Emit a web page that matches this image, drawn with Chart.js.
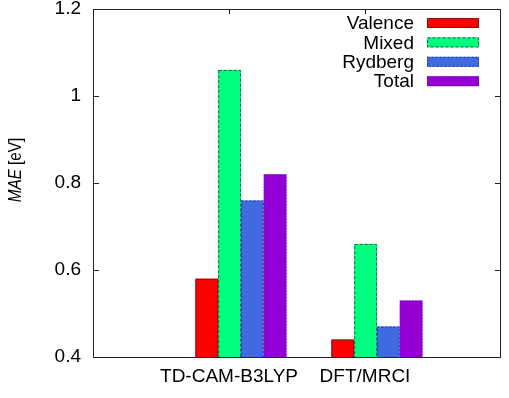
<!DOCTYPE html>
<html>
<head>
<meta charset="utf-8">
<script src="https://cdn.jsdelivr.net/npm/chart.js@4.4.1/dist/chart.umd.min.js"></script>
<style>
  html, body { margin: 0; padding: 0; background: #fff; }
  #wrap { width: 509px; height: 398px; }
</style>
</head>
<body>
<div id="wrap"><canvas id="maeChart" width="509" height="398"></canvas></div>
<script>
const methods = ["TD-CAM-B3LYP", "DFT/MRCI"];
const seriesNames = ["Valence", "Mixed", "Rydberg", "Total"];
const valence = [0.58, 0.44];
const mixed = [1.06, 0.66];
const rydberg = [0.76, 0.47];
const total = [0.82, 0.53];
const yTicks = [0.4, 0.6, 0.8, 1, 1.2];

const fills = ["#ff0000", "#00ff7f", "#4169e1", "#9400d3"];
const edges = ["#8b1010", "#0b6b38", "#1f3a99", "#6a1099"];
const dashes = [[], [3, 2], [2, 2], [1, 2]];
const FONT = "'Liberation Sans', Arial, sans-serif";

const allSeries = [valence, mixed, rydberg, total];

const datasets = allSeries.map((vals, k) => ({
  label: seriesNames[k],
  data: vals.map((v, i) => ({ x: i, y: v })),
  backgroundColor: fills[k],
  borderWidth: 0,
  edgeColor: edges[k],
  edgeDash: dashes[k],
  categoryPercentage: 0.67,
  barPercentage: 1.0,
}));

// gnuplot-like box: frame with inward ticks on all four sides
const framePlugin = {
  id: "frame",
  beforeDatasetsDraw(chart) {
    const { ctx, chartArea: a, scales } = chart;
    ctx.save();
    ctx.strokeStyle = "#222";
    ctx.lineWidth = 1;
    ctx.beginPath();
    scales.y.ticks.forEach((t) => {
      const y = Math.round(scales.y.getPixelForValue(t.value)) + 0.5;
      ctx.moveTo(a.left, y); ctx.lineTo(a.left + 6, y);
      ctx.moveTo(a.right, y); ctx.lineTo(a.right - 6, y);
    });
    scales.x.ticks.forEach((t) => {
      const x = Math.round(scales.x.getPixelForValue(t.value)) + 0.5;
      ctx.moveTo(x, a.bottom); ctx.lineTo(x, a.bottom - 5);
      ctx.moveTo(x, a.top); ctx.lineTo(x, a.top + 5);
    });
    ctx.stroke();
    ctx.restore();
  },
  afterDatasetsDraw(chart) {
    const { ctx, chartArea: a } = chart;
    ctx.save();
    // bar outlines (dashed / dotted like the original)
    ctx.beginPath();
    ctx.rect(a.left, a.top, a.right - a.left, a.bottom - a.top);
    ctx.clip();
    chart.data.datasets.forEach((ds, k) => {
      const meta = chart.getDatasetMeta(k);
      ctx.strokeStyle = ds.edgeColor;
      ctx.setLineDash(ds.edgeDash);
      ctx.lineWidth = 1;
      meta.data.forEach((el) => {
        const p = el.getProps(["x", "y", "base", "width"], true);
        const bottom = Math.min(p.base, a.bottom);
        ctx.strokeRect(p.x - p.width / 2 + 0.5, p.y + 0.5, p.width - 1, bottom - p.y);
      });
    });
    ctx.restore();

    ctx.save();
    ctx.strokeStyle = "#222";
    ctx.lineWidth = 1;
    ctx.strokeRect(Math.round(a.left) + 0.5, Math.round(a.top) + 0.5,
      Math.round(a.right - a.left) - 1, Math.round(a.bottom - a.top));
    ctx.restore();
  },
  afterDraw(chart) {
    const { ctx } = chart;
    // legend, text right aligned with sample box on the right
    ctx.save();
    ctx.font = "19px " + FONT;
    ctx.textAlign = "right";
    ctx.textBaseline = "middle";
    chart.data.datasets.forEach((ds, k) => {
      const y = 23 + k * 19.4;
      ctx.fillStyle = "#000";
      ctx.fillText(ds.label, 414, y + 1);
      ctx.fillStyle = ds.backgroundColor;
      ctx.fillRect(427, y - 5, 52, 10);
      ctx.strokeStyle = ds.edgeColor;
      ctx.setLineDash(ds.edgeDash);
      ctx.strokeRect(427.5, y - 4.5, 51, 9);
      ctx.setLineDash([]);
    });
    ctx.restore();

    // y axis title: italic MAE + [eV], a bit condensed like the original
    ctx.save();
    ctx.translate(16, 170);
    ctx.rotate(-Math.PI / 2);
    ctx.scale(0.85, 1);
    ctx.textBaseline = "middle";
    ctx.fillStyle = "#000";
    const italic = "italic 18px " + FONT;
    const normal = "18px " + FONT;
    ctx.font = italic;
    const w1 = ctx.measureText("MAE").width;
    ctx.font = normal;
    const w2 = ctx.measureText(" [eV]").width;
    const x0 = -(w1 + w2) / 2;
    ctx.textAlign = "left";
    ctx.font = italic;
    ctx.fillText("MAE", x0, 0);
    ctx.font = normal;
    ctx.fillText(" [eV]", x0 + w1, 0);
    ctx.restore();
  },
};

const ctx = document.getElementById("maeChart").getContext("2d");
const maeChart = new Chart(ctx, {
  type: "bar",
  data: { datasets: datasets },
  options: {
    responsive: false,
    animation: false,
    devicePixelRatio: 1,
    layout: { padding: { left: 0, top: 9, right: 8, bottom: 0 } },
    plugins: {
      legend: { display: false },
      tooltip: { enabled: false },
    },
    scales: {
      x: {
        type: "linear",
        offset: false,
        min: -1.088,
        max: 1.912,
        grid: { display: false, drawTicks: false },
        border: { display: false },
        afterBuildTicks: (s) => {
          s.ticks = methods.map((m, i) => ({ value: i - 0.088 }));
        },
        ticks: {
          autoSkip: false,
          maxRotation: 0,
          padding: 8,
          color: "#000",
          font: { family: FONT, size: 19 },
          callback: (v, i) => methods[i],
        },
        afterFit: (s) => {
          s.height = 41;
          s.paddingLeft = 0;
          s.paddingRight = 0;
        },
      },
      y: {
        min: 0.4,
        max: 1.2,
        grid: { display: false, drawTicks: false },
        border: { display: false },
        afterBuildTicks: (s) => {
          s.ticks = yTicks.map((v) => ({ value: v }));
        },
        ticks: {
          padding: 12,
          color: "#000",
          font: { family: FONT, size: 19 },
          callback: (v) => String(v),
        },
        afterFit: (s) => {
          s.width = 93;
          s.paddingTop = 0;
          s.paddingBottom = 0;
        },
      },
    },
  },
  plugins: [framePlugin],
});
</script>
</body>
</html>
